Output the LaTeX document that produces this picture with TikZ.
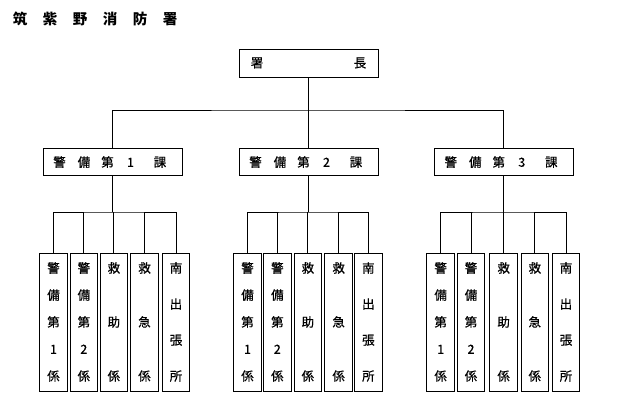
\documentclass[tikz,border=0pt]{standalone}
\usepackage{fontspec}
\newfontfamily\jp{Noto Sans CJK JP}
\newfontfamily\jpm{Noto Sans CJK JP}[FakeBold=0.6]
\newcommand\vch[1]{\hbox to 14pt{\hss\vrule height 11pt depth 1.5pt width 0pt\relax #1\hss}}
\newcommand\vcol[1]{\vbox to 119pt{#1}}
\newcommand\kaline[5]{\makebox[24pt]{#1}\makebox[25pt]{#2}\makebox[22pt]{#3}\makebox[24pt]{#4}\makebox[35pt]{#5}}
\begin{document}
\begin{tikzpicture}[x=1pt,y=-1pt,
  box/.style={draw=black,line width=0.9pt,inner sep=0pt,font=\jpm\fontsize{12.5}{14}\selectfont,anchor=center},
  topbox/.style={box,minimum width=139pt,minimum height=28pt},
  midbox/.style={box,minimum width=139pt,minimum height=27.7pt},
  smallbox/.style={box,minimum width=27.5pt,minimum height=138pt},
  conn/.style={draw=black,line width=0.8pt}]
\useasboundingbox (0,0) rectangle (619,413);
\node[anchor=west,inner sep=0pt,font=\jp\bfseries\fontsize{14.5}{16}\selectfont] (title) at (5,18.7)
  {\makebox[30pt]{筑}\makebox[30pt]{紫}\makebox[30pt]{野}\makebox[30pt]{消}\makebox[30pt]{防}\makebox[30pt]{署}};
\node[topbox] (chief) at (308.5,63) {署\hspace{90.5pt}長};
\node[midbox] (m1) at (112.5,162) {\kaline{警}{備}{第}{1}{課}};
\node[midbox] (m2) at (308.5,162) {\kaline{警}{備}{第}{2}{課}};
\node[midbox] (m3) at (503.8,162) {\kaline{警}{備}{第}{3}{課}};
\coordinate (bus) at (308.5,110);
\draw[conn] (chief.south) -- (m2.north);
\draw[conn] (m1.north) |- (bus) -| (m3.north);
\foreach \g/\xa/\xb/\xc/\xd/\xe/\xm in {1/53.5/83.85/113.85/144.5/176/112.5,
                                      2/247.5/277.35/307.85/338.65/368.35/308.5,
                                      3/440.65/471/503.65/534.8/566/503.8}{
  \node[smallbox] (s\g-1) at (\xa,322) {\vcol{\vch{警}\vfil\vch{備}\vfil\vch{第}\vfil\vch{1}\vfil\vch{係}}};
  \node[smallbox] (s\g-2) at (\xb,322) {\vcol{\vch{警}\vfil\vch{備}\vfil\vch{第}\vfil\vch{2}\vfil\vch{係}}};
  \node[smallbox] (s\g-3) at (\xc,322) {\vcol{\vch{救}\vfil\vch{助}\vfil\vch{係}}};
  \node[smallbox] (s\g-4) at (\xd,322) {\vcol{\vch{救}\vfil\vch{急}\vfil\vch{係}}};
  \node[smallbox] (s\g-5) at (\xe,322) {\vcol{\vch{南}\vfil\vch{出}\vfil\vch{張}\vfil\vch{所}}};
  \coordinate (sub\g) at (\xm,212);
  \draw[conn] (m\g.south) -- (sub\g);
  \draw[conn] (s\g-1.north) |- (sub\g) -| (s\g-5.north);
  \draw[conn] (s\g-2.north) -- (s\g-2.north |- sub\g);
  \draw[conn] (s\g-3.north) -- (s\g-3.north |- sub\g);
  \draw[conn] (s\g-4.north) -- (s\g-4.north |- sub\g);
}
\end{tikzpicture}
\end{document}
